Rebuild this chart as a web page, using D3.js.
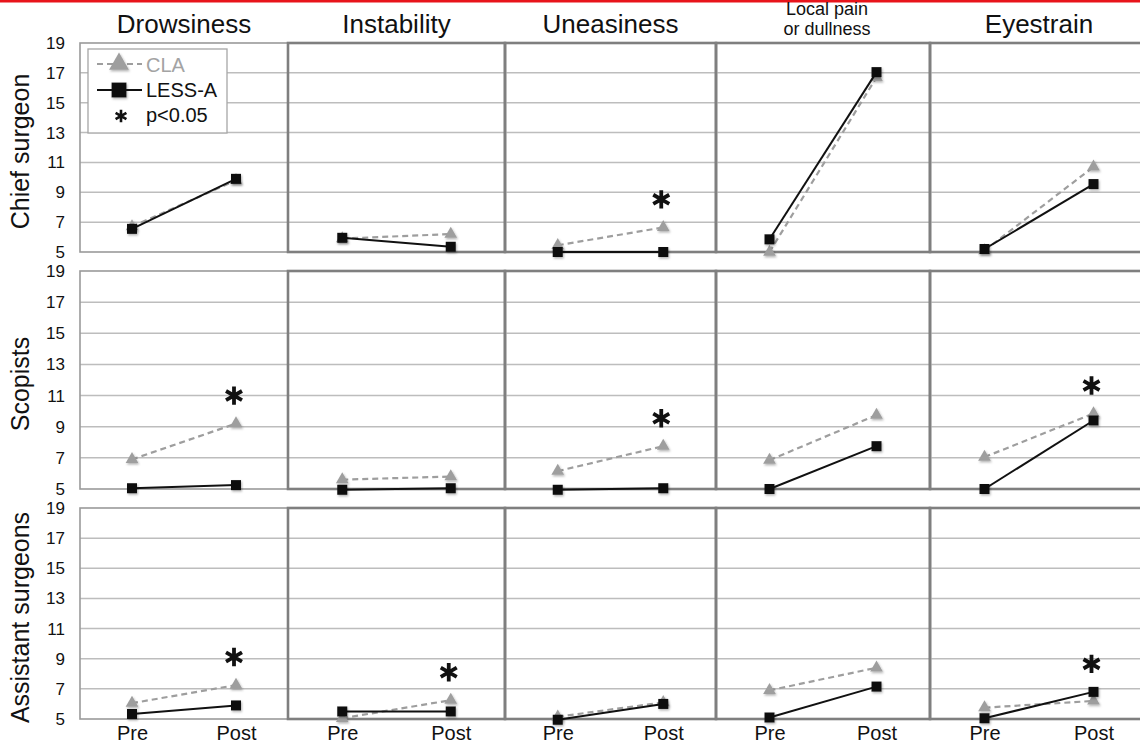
<!DOCTYPE html>
<html lang="en">
<head>
<meta charset="utf-8">
<title>CLA vs LESS-A symptom scores</title>
<script src="https://cdn.jsdelivr.net/npm/d3@7"></script>
<style>
  body { margin: 0; background: #fff; }
  svg { display: block; font-family: "Liberation Sans", Arial, sans-serif; }
</style>
</head>
<body>
<script>
// ---- data ----
var symptoms = ["Drowsiness", "Instability", "Uneasiness", "Local pain|or dullness", "Eyestrain"];
var groups = ["Chief surgeon", "Scopists", "Assistant surgeons"];
var phases = ["Pre", "Post"];
var yTicks = [5, 7, 9, 11, 13, 15, 17, 19];

// [group][symptom] = [pre, post]
var claValues = [
  [[6.7, 9.8], [5.9, 6.2], [5.45, 6.65], [5.0, 16.7], [5.1, 10.7]],
  [[6.9, 9.2], [5.6, 5.8], [6.15, 7.75], [6.85, 9.75], [7.05, 9.85]],
  [[6.05, 7.25], [5.05, 6.25], [5.15, 6.1], [6.9, 8.4], [5.75, 6.2]]
];
var lessValues = [
  [[6.55, 9.9], [5.95, 5.35], [5.0, 5.0], [5.85, 17.05], [5.2, 9.55]],
  [[5.05, 5.25], [4.95, 5.05], [4.95, 5.05], [5.0, 7.75], [5.0, 9.4]],
  [[5.33, 5.9], [5.5, 5.5], [4.95, 6.0], [5.1, 7.15], [5.05, 6.8]]
];
// p<0.05 marks
var significant = [
  [false, false, true, false, false],
  [true, false, true, false, true],
  [true, true, false, false, true]
];

// ---- layout ----
var w = 1140, h = 745;
var colEdges = [80, 288, 505, 716, 930, 1148];
var rowBox = [[43, 252], [271, 489], [508, 719]];
var claColor = "#9e9e9e", lessColor = "#111";

var svg = d3.select("body").append("svg")
  .attr("width", w).attr("height", h);

// soft marker shadow like the original
var defs = svg.append("defs");
defs.append("filter").attr("id", "shadow")
  .attr("x", "-50%").attr("y", "-50%").attr("width", "200%").attr("height", "200%")
  .append("feDropShadow")
  .attr("dx", 1).attr("dy", 1.5).attr("stdDeviation", 1)
  .attr("flood-color", "#000").attr("flood-opacity", 0.3);

// red rule at the very top
svg.append("rect").attr("x", 0).attr("y", 0).attr("width", w).attr("height", 2.5).attr("fill", "#e8141b");

var triangle = function(size) { return d3.symbol().type(d3.symbolTriangle).size(size)(); };
var square = function(size) { return d3.symbol().type(d3.symbolSquare).size(size)(); };
var asterisk = d3.symbol().type(d3.symbolAsterisk).size(240)();

// column titles
symptoms.forEach(function(s, c) {
  var cx = (colEdges[c] + colEdges[c + 1]) / 2;
  var lines = s.split("|");
  if (lines.length > 1) {
    // two short lines, kept as separate texts
    lines.forEach(function(l, i) {
      svg.append("text").attr("x", cx + 4).attr("y", 15 + i * 20)
        .attr("text-anchor", "middle").attr("font-size", 18).attr("fill", "#111").text(l);
    });
  } else {
    svg.append("text").attr("x", cx).attr("y", 33)
      .attr("text-anchor", "middle").attr("font-size", 26).attr("fill", "#111").text(s);
  }
});

groups.forEach(function(g, r) {
  var top = rowBox[r][0], bottom = rowBox[r][1];
  var y = d3.scaleLinear().domain([5, 19]).range([bottom, top]);

  // row label
  svg.append("text")
    .attr("transform", "translate(29," + ((top + bottom) / 2 + 4) + ") rotate(-90)")
    .attr("text-anchor", "middle").attr("font-size", 25).attr("fill", "#111").text(g);

  // y tick labels
  var yAxis = svg.append("g").attr("transform", "translate(65,0)")
    .call(d3.axisLeft(y).tickValues(yTicks).tickSize(0).tickPadding(0));
  yAxis.select(".domain").remove();
  yAxis.selectAll("text").attr("font-size", 17).attr("font-family", "Liberation Sans, Arial, sans-serif").attr("fill", "#111");

  symptoms.forEach(function(s, c) {
    var x0 = colEdges[c], x1 = colEdges[c + 1];
    var x = d3.scalePoint().domain(phases).range([x0, x1]).padding(0.5);
    var panel = svg.append("g");

    // gridlines
    panel.selectAll("line.grid").data(yTicks.slice(1, -1)).enter().append("line")
      .attr("x1", x0).attr("x2", x1)
      .attr("y1", function(d) { return y(d); }).attr("y2", function(d) { return y(d); })
      .attr("stroke", "#bdbdbd").attr("stroke-width", 1.5);

    // frame
    panel.append("rect").attr("x", x0).attr("y", top)
      .attr("width", x1 - x0).attr("height", bottom - top)
      .attr("fill", "none")
      .attr("stroke", c === 0 ? "#9a9a9a" : "#7f7f7f")
      .attr("stroke-width", c === 0 ? 1.6 : 2.6);

    // legend in the first panel
    if (r === 0 && c === 0) {
      var lg = panel.append("g");
      lg.append("rect").attr("x", 88).attr("y", 49).attr("width", 139).attr("height", 84)
        .attr("fill", "#fff").attr("stroke", "#a6a6a6").attr("stroke-width", 1.3);
      lg.append("line").attr("x1", 97).attr("x2", 142).attr("y1", 64).attr("y2", 64)
        .attr("stroke", claColor).attr("stroke-width", 2.2).attr("stroke-dasharray", "6,4");
      lg.append("path").attr("d", triangle(170)).attr("transform", "translate(119,64)")
        .attr("fill", claColor).attr("filter", "url(#shadow)");
      lg.append("text").attr("x", 146).attr("y", 72).attr("font-size", 20).attr("fill", "#a3a3a3").text("CLA");
      lg.append("line").attr("x1", 97).attr("x2", 142).attr("y1", 90).attr("y2", 90)
        .attr("stroke", lessColor).attr("stroke-width", 2);
      lg.append("path").attr("d", square(220)).attr("transform", "translate(119,90)")
        .attr("fill", lessColor).attr("filter", "url(#shadow)");
      lg.append("text").attr("x", 146).attr("y", 97).attr("font-size", 20).attr("fill", "#111").text("LESS-A");
      lg.append("path").attr("d", d3.symbol().type(d3.symbolAsterisk).size(110)())
        .attr("transform", "translate(121,116)")
        .attr("fill", "none").attr("stroke", "#111").attr("stroke-width", 2.6);
      lg.append("text").attr("x", 146).attr("y", 122).attr("font-size", 20).attr("fill", "#111").text("p<0.05");
    }

    var line = d3.line()
      .x(function(d, i) { return x(phases[i]); })
      .y(function(d) { return y(d); });

    // CLA series
    panel.append("path").datum(claValues[r][c]).attr("d", line)
      .attr("fill", "none").attr("stroke", claColor).attr("stroke-width", 2.2).attr("stroke-dasharray", "6,4");
    panel.selectAll("path.cla").data(claValues[r][c]).enter().append("path")
      .attr("class", "cla").attr("d", triangle(70))
      .attr("transform", function(d, i) { return "translate(" + x(phases[i]) + "," + y(d) + ")"; })
      .attr("fill", claColor).attr("filter", "url(#shadow)");

    // LESS-A series
    panel.append("path").datum(lessValues[r][c]).attr("d", line)
      .attr("fill", "none").attr("stroke", lessColor).attr("stroke-width", 2);
    panel.selectAll("path.less").data(lessValues[r][c]).enter().append("path")
      .attr("class", "less").attr("d", square(100))
      .attr("transform", function(d, i) { return "translate(" + x(phases[i]) + "," + y(d) + ")"; })
      .attr("fill", lessColor).attr("filter", "url(#shadow)");

    // significance mark over the Post point
    if (significant[r][c]) {
      var top2 = Math.max(claValues[r][c][1], lessValues[r][c][1]);
      panel.append("path").attr("d", asterisk)
        .attr("transform", "translate(" + (x("Post") - 2) + "," + (y(top2) - 28) + ")")
        .attr("fill", "none").attr("stroke", "#111").attr("stroke-width", 3.8);
    }

    // Pre / Post labels under the bottom row
    if (r === groups.length - 1) {
      var xAxis = panel.append("g").attr("transform", "translate(0," + bottom + ")")
        .call(d3.axisBottom(x).tickSize(0).tickPadding(7));
      xAxis.select(".domain").remove();
      xAxis.selectAll("text").attr("font-size", 20).attr("font-family", "Liberation Sans, Arial, sans-serif").attr("fill", "#111");
    }
  });
});
</script>
</body>
</html>
